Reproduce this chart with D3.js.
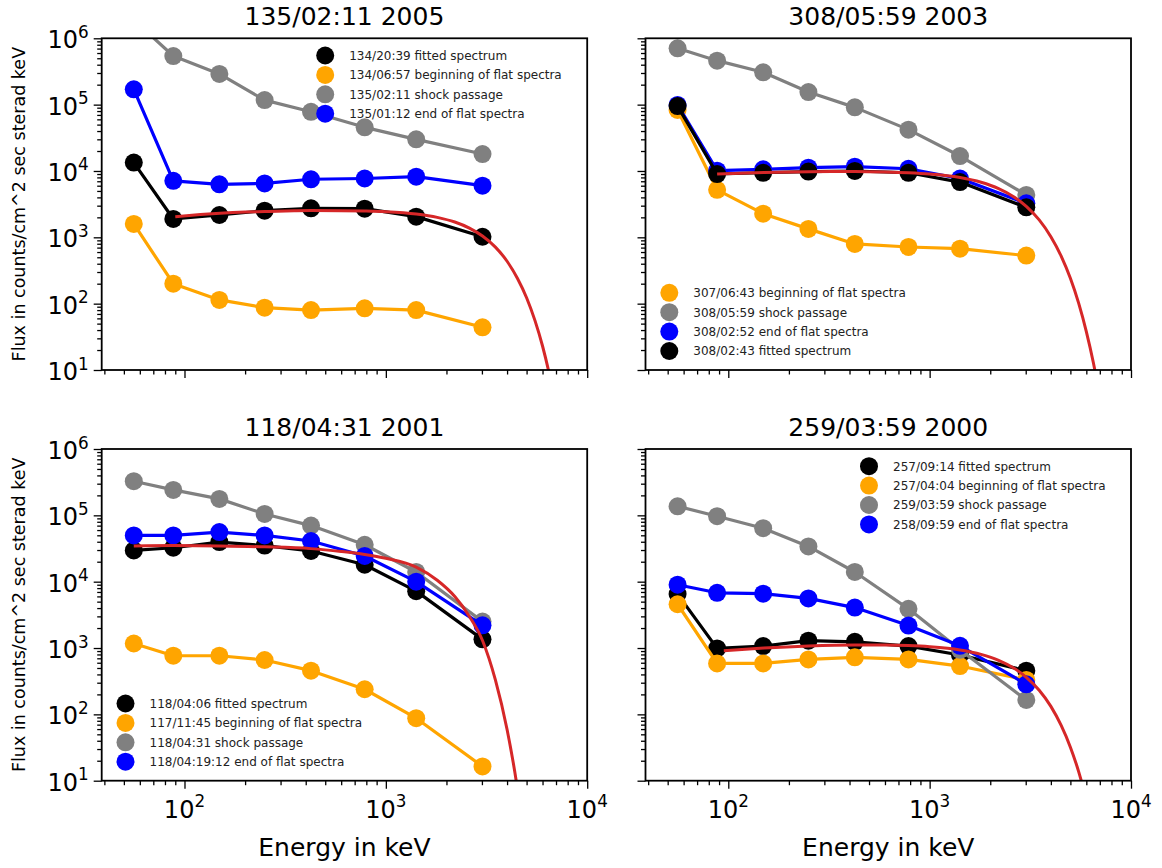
<!DOCTYPE html>
<html><head><meta charset="utf-8">
<script src="https://cdn.jsdelivr.net/npm/d3@7"></script>
<style>
body{margin:0;background:#fff}
svg{display:block}
text{font-family:"DejaVu Sans",sans-serif}
</style>
</head><body>
<svg id="c" width="1162" height="868"></svg>
<script>
// ---------------- data ----------------
const energies = [56, 88, 149, 250, 425, 785, 1415, 3020];
const titles = ["135/02:11 2005", "308/05:59 2003", "118/04:31 2001", "259/03:59 2000"];
const xMajorTicks = [100, 1000, 10000];
const yMajorTicks = [10, 100, 1000, 10000, 100000, 1000000];
const xLabel = "Energy in keV";
const yLabel = "Flux in counts/cm^2 sec sterad keV";

// panel 1 : 135/02:11 2005
const p1Labels = ["134/20:39 fitted spectrum", "134/06:57 beginning of flat spectra", "135/02:11 shock passage", "135/01:12 end of flat spectra"];
const p1Fitted = [13400, 1890, 2170, 2520, 2740, 2700, 2050, 1020];
const p1Begin  = [1590, 200, 114, 87, 80, 85, 80, 44];
const p1Shock  = [1900000, 540000, 290000, 117000, 78000, 45500, 30000, 18000];
const p1End    = [170000, 7100, 6300, 6500, 7500, 7700, 8200, 6000];
const p1FitE    = [90, 120, 150, 200, 250, 350, 425, 600, 785, 1000, 1415, 1800, 2200, 2600, 3020, 3500, 4000, 4500, 5000, 5500, 6000, 6500, 7000];
const p1FitFlux = [2050, 2200, 2300, 2400, 2450, 2520, 2540, 2525, 2490, 2430, 2245, 2000, 1700, 1376, 1045, 711, 436, 242, 123, 56, 23, 8.4, 2.8];

// panel 2 : 308/05:59 2003
const p2Labels = ["307/06:43 beginning of flat spectra", "308/05:59 shock passage", "308/02:52 end of flat spectra", "308/02:43 fitted spectrum"];
const p2Begin  = [83000, 5200, 2270, 1340, 795, 715, 675, 530];
const p2Shock  = [706000, 460000, 307000, 155000, 91000, 42000, 16800, 4350];
const p2End    = [99000, 10100, 10600, 11200, 11600, 10800, 7700, 3260];
const p2Fitted = [95000, 9000, 9400, 9800, 10000, 9400, 6800, 2830];
const p2FitE    = [88, 150, 250, 425, 600, 785, 1000, 1415, 1800, 2200, 2600, 3020, 3500, 4000, 4500, 5000, 5500, 6000, 6500, 7000];
const p2FitFlux = [9000, 9500, 9750, 9840, 9660, 9390, 8980, 7950, 6750, 5420, 4130, 2930, 1830, 1023, 521, 241, 101, 38, 13, 4];

// panel 3 : 118/04:31 2001
const p3Labels = ["118/04:06 fitted spectrum", "117/11:45 beginning of flat spectra", "118/04:31 shock passage", "118/04:19:12 end of flat spectra"];
const p3Fitted = [29600, 32500, 39500, 35000, 29000, 18000, 7200, 1350];
const p3Begin  = [1170, 765, 765, 660, 456, 239, 87.5, 16.4];
const p3Shock  = [327000, 242000, 177000, 105000, 70000, 36000, 14000, 2500];
const p3End    = [49800, 49800, 56000, 49800, 41000, 24400, 10000, 2200];
const p3FitE    = [56, 88, 150, 250, 425, 600, 785, 1000, 1415, 1800, 2200, 2600, 3020, 3500, 4000, 4440, 4700];
const p3FitFlux = [34500, 35000, 34500, 33500, 31500, 28500, 25700, 22500, 16600, 10500, 5960, 2990, 1300, 330, 59, 10, 3];

// panel 4 : 259/03:59 2000
const p4Labels = ["257/09:14 fitted spectrum", "257/04:04 beginning of flat spectra", "259/03:59 shock passage", "258/09:59 end of flat spectra"];
const p4Fitted = [6500, 986, 1070, 1290, 1240, 1070, 784, 455];
const p4Begin  = [4570, 586, 586, 674, 723, 674, 535, 330];
const p4Shock  = [137000, 97000, 64000, 34000, 14000, 3900, 940, 165];
const p4End    = [9000, 6800, 6600, 5600, 4070, 2180, 1080, 284];
const p4FitE    = [95, 150, 250, 425, 600, 785, 1000, 1415, 1800, 2200, 2600, 3020, 3500, 4000, 4500, 5000, 5500, 6000];
const p4FitFlux = [910, 999, 1075, 1114, 1111, 1088, 1045, 935, 803, 654, 505, 362, 231, 132, 68, 32, 13.6, 5.2];

// ---------------- styling / layout ----------------
const COL = {fitted: "#000000", begin: "#ffa500", shock: "#808080", end: "#0000ff", fit: "#d62728"};
const W = 485.5, H = 331.7;
const panels = [
  {x0: 101.7, y0: 38.3, title: titles[0], fitE: p1FitE, fitF: p1FitFlux, leg: "ur", ylab: true, xlab: false,
   series: [["fitted", p1Fitted, p1Labels[0]], ["begin", p1Begin, p1Labels[1]], ["shock", p1Shock, p1Labels[2]], ["end", p1End, p1Labels[3]]]},
  {x0: 645.5, y0: 38.3, title: titles[1], fitE: p2FitE, fitF: p2FitFlux, leg: "ll", ylab: false, xlab: false,
   series: [["begin", p2Begin, p2Labels[0]], ["shock", p2Shock, p2Labels[1]], ["end", p2End, p2Labels[2]], ["fitted", p2Fitted, p2Labels[3]]]},
  {x0: 101.7, y0: 449, title: titles[2], fitE: p3FitE, fitF: p3FitFlux, leg: "ll", ylab: true, xlab: true,
   series: [["fitted", p3Fitted, p3Labels[0]], ["begin", p3Begin, p3Labels[1]], ["shock", p3Shock, p3Labels[2]], ["end", p3End, p3Labels[3]]]},
  {x0: 645.5, y0: 449, title: titles[3], fitE: p4FitE, fitF: p4FitFlux, leg: "ur", ylab: false, xlab: true,
   series: [["fitted", p4Fitted, p4Labels[0]], ["begin", p4Begin, p4Labels[1]], ["shock", p4Shock, p4Labels[2]], ["end", p4End, p4Labels[3]]]}
];

function minorTicks(lo, hi) {
  const out = [];
  for (let e = Math.floor(Math.log10(lo)); e < Math.ceil(Math.log10(hi)); e++) {
    for (let m = 2; m <= 9; m++) {
      const v = m * Math.pow(10, e);
      if (v >= lo * 0.999 && v <= hi * 1.001) out.push(v);
    }
  }
  return out;
}

const svg = d3.select("#c");
const TICKFS = 24, SUPFS = 16.8;

panels.forEach((p, i) => {
  const x = d3.scaleLog().domain([38.8, 10000]).range([p.x0, p.x0 + W]);
  const y = d3.scaleLog().domain([10, 1e6]).range([p.y0 + H, p.y0]);
  const g = svg.append("g");

  const clipId = "clip" + i;
  svg.append("clipPath").attr("id", clipId).append("rect")
    .attr("x", p.x0).attr("y", p.y0).attr("width", W).attr("height", H);

  // ticks (x)
  const xAxisMinor = d3.axisBottom(x).tickValues(minorTicks(38.8, 10000)).tickSize(4.5).tickFormat("");
  const xAxisMajor = d3.axisBottom(x).tickValues(xMajorTicks).tickSize(8).tickFormat("");
  [xAxisMinor, xAxisMajor].forEach(ax => {
    const a = g.append("g").attr("transform", `translate(0,${p.y0 + H})`).call(ax);
    a.select(".domain").remove();
    a.selectAll("line").attr("stroke", "#000").attr("stroke-width", 1.3);
  });
  const yAxisMinor = d3.axisLeft(y).tickValues(minorTicks(10, 1e6)).tickSize(4.5).tickFormat("");
  const yAxisMajor = d3.axisLeft(y).tickValues(yMajorTicks).tickSize(8).tickFormat("");
  [yAxisMinor, yAxisMajor].forEach(ax => {
    const a = g.append("g").attr("transform", `translate(${p.x0},0)`).call(ax);
    a.select(".domain").remove();
    a.selectAll("line").attr("stroke", "#000").attr("stroke-width", 1.3);
  });

  // tick labels
  if (p.ylab) {
    yMajorTicks.forEach(v => {
      const t = g.append("text").attr("x", p.x0 - 13).attr("y", y(v) + 10)
        .attr("text-anchor", "end").attr("font-size", TICKFS).attr("fill", "#000");
      t.append("tspan").text("10");
      t.append("tspan").attr("dy", -10.5).attr("font-size", SUPFS).text(Math.round(Math.log10(v)));
    });
  }
  if (p.xlab) {
    xMajorTicks.forEach(v => {
      const t = g.append("text").attr("x", x(v)).attr("y", p.y0 + H + 37)
        .attr("text-anchor", "middle").attr("font-size", TICKFS).attr("fill", "#000");
      t.append("tspan").text("10");
      t.append("tspan").attr("dy", -10.5).attr("font-size", SUPFS).text(Math.round(Math.log10(v)));
    });
    g.append("text").attr("x", p.x0 + W / 2).attr("y", p.y0 + H + 75)
      .attr("text-anchor", "middle").attr("font-size", 25).attr("fill", "#000").text(xLabel);
  }
  if (p.ylab) {
    g.append("text").attr("transform", `translate(25,${p.y0 + H / 2}) rotate(-90)`)
      .attr("text-anchor", "middle").attr("font-size", 17.5).attr("fill", "#000").text(yLabel);
  }

  // title
  g.append("text").attr("x", p.x0 + W / 2).attr("y", p.y0 - 13.5)
    .attr("text-anchor", "middle").attr("font-size", 25).attr("fill", "#000").text(p.title);

  // data
  const plot = g.append("g").attr("clip-path", `url(#${clipId})`);
  const line = d3.line().x(d => x(d[0])).y(d => y(d[1]));
  p.series.forEach(([key, vals]) => {
    const pts = energies.map((e, k) => [e, vals[k]]);
    const sg = plot.append("g");
    sg.append("path").attr("d", line(pts)).attr("fill", "none")
      .attr("stroke", COL[key]).attr("stroke-width", 3.2).attr("stroke-linejoin", "round");
    sg.selectAll("circle").data(pts).enter().append("circle")
      .attr("cx", d => x(d[0])).attr("cy", d => y(d[1])).attr("r", 9).attr("fill", COL[key]);
  });
  const fitPts = p.fitE.map((e, k) => [e, p.fitF[k]]);
  plot.append("path").attr("d", d3.line().x(d => x(d[0])).y(d => y(d[1])).curve(d3.curveMonotoneX)(fitPts))
    .attr("fill", "none").attr("stroke", COL.fit).attr("stroke-width", 3);

  // frame
  g.append("rect").attr("x", p.x0).attr("y", p.y0).attr("width", W).attr("height", H)
    .attr("fill", "none").attr("stroke", "#000").attr("stroke-width", 1.8);

  // legend
  const lx = p.leg === "ur" ? p.x0 + 223.5 : p.x0 + 23.8;
  const ly = p.leg === "ur" ? p.y0 + 17.2 : p.y0 + 254.5;
  p.series.forEach(([key, vals, lab], k) => {
    const cy = ly + k * 19.4;
    g.append("circle").attr("cx", lx).attr("cy", cy).attr("r", 9).attr("fill", COL[key]);
    g.append("text").attr("x", lx + 24).attr("y", cy + 4.4).attr("font-size", 12).attr("fill", "#222").text(lab);
  });
});
</script>
</body></html>
